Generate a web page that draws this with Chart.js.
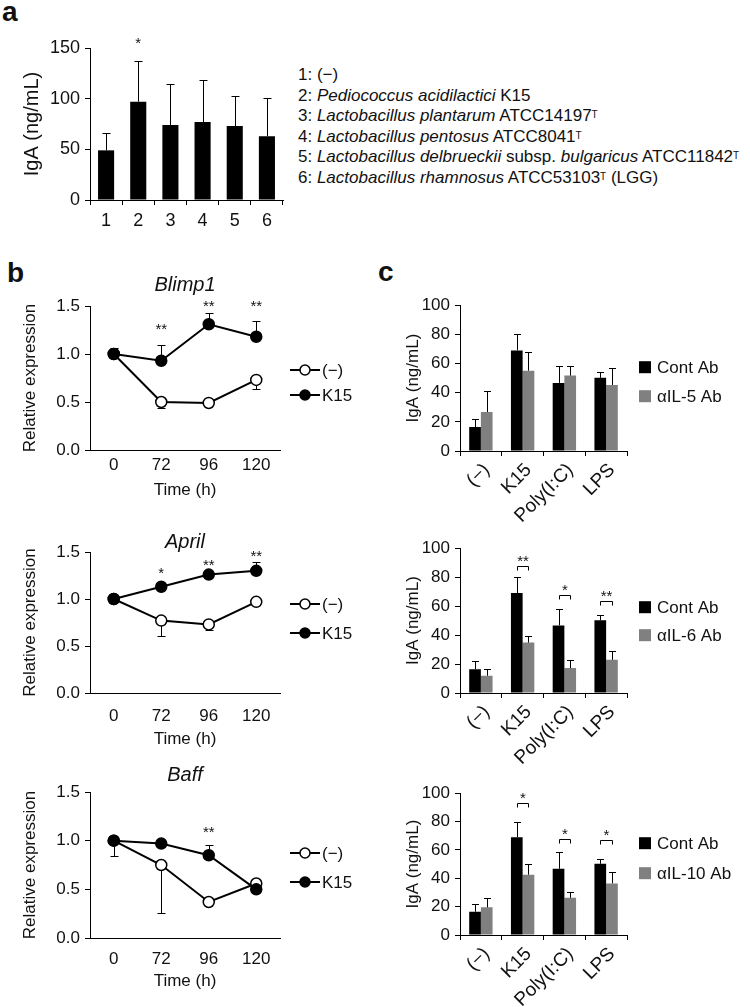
<!DOCTYPE html>
<html>
<head>
<meta charset="utf-8">
<script src="https://cdn.jsdelivr.net/npm/chart.js@4.4.0/dist/chart.umd.min.js"></script>
<style>
body { margin: 0; background: #fff; width: 750px; height: 1007px; position: relative; overflow: hidden; font-family: "Liberation Sans", Arial, sans-serif; color: #111; }
canvas { position: absolute; }
.lbl { position: absolute; font-weight: bold; font-size: 28px; line-height: 28px; }
#strains { position: absolute; left: 298px; top: 65px; font-size: 17px; line-height: 20.5px; white-space: nowrap; }
#strains sup { font-size: 10px; vertical-align: top; position: relative; top: -1px; }
</style>
</head>
<body>
<div class="lbl" style="left:2px;top:-2px">a</div>
<div class="lbl" style="left:7px;top:259px">b</div>
<div class="lbl" style="left:378px;top:258px">c</div>
<div id="strains">
1: (−)<br>
2: <i>Pediococcus acidilactici</i> K15<br>
3: <i>Lactobacillus plantarum</i> ATCC14197<sup>T</sup><br>
4: <i>Lactobacillus pentosus</i> ATCC8041<sup>T</sup><br>
5: <i>Lactobacillus delbrueckii</i> subsp. <i>bulgaricus</i> ATCC11842<sup>T</sup><br>
6: <i>Lactobacillus rhamnosus</i> ATCC53103<sup>T</sup> (LGG)
</div>

<canvas id="chartA" width="290" height="235" style="left:0;top:0"></canvas>
<canvas id="chartBlimp" width="380" height="225" style="left:0;top:275px"></canvas>
<canvas id="chartApril" width="380" height="217" style="left:0;top:532px"></canvas>
<canvas id="chartBaff" width="380" height="226" style="left:0;top:765px"></canvas>
<canvas id="chartIL5" width="370" height="233" style="left:380px;top:290px"></canvas>
<canvas id="chartIL6" width="370" height="232" style="left:380px;top:533px"></canvas>
<canvas id="chartIL10" width="370" height="229" style="left:380px;top:778px"></canvas>

<script>
// ---- panel a: IgA per strain ----
const aLabels = ['1', '2', '3', '4', '5', '6'];
const aIgA = [49, 97, 74, 77, 73, 63];
const aErr = [17, 40, 40, 41, 30, 38];
const aSig = ['', '*', '', '', '', ''];
const aSigAt = [null, 158, null, null, null, null];

// ---- panel b: relative expression over time ----
const timeLabels = ['0', '72', '96', '120'];

const blimpNeg = [1.0, 0.50, 0.49, 0.73];
const blimpNegErr = [0.03, 0.06, 0.02, 0.09];
const blimpK15 = [1.0, 0.93, 1.31, 1.18];
const blimpK15Err = [0.06, 0.16, 0.12, 0.16];
const blimpSig = ['', '**', '**', '**'];
const blimpSigAt = [null, 1.30, 1.54, 1.54];

const aprilNeg = [1.0, 0.77, 0.73, 0.97];
const aprilNegErr = [0.02, 0.16, 0.06, 0.02];
const aprilK15 = [1.0, 1.13, 1.26, 1.30];
const aprilK15Err = [0.02, 0.02, 0.03, 0.09];
const aprilSig = ['', '*', '**', '**'];
const aprilSigAt = [null, 1.31, 1.40, 1.49];

const baffNeg = [1.0, 0.75, 0.37, 0.56];
const baffNegErr = [0.16, 0.49, 0.02, 0.02];
const baffK15 = [1.0, 0.97, 0.85, 0.50];
const baffK15Err = [0.02, 0.03, 0.11, 0.02];
const baffSig = ['', '', '**', ''];
const baffSigAt = [null, null, 1.12, null];

// ---- panel c: IgA with blocking antibodies ----
const cLabels = ['(−)', 'K15', 'Poly(I:C)', 'LPS'];
const contAb = [16.4, 69.0, 46.7, 50.2];
const contErr = [5.5, 11.0, 11.5, 3.7];

const il5Ab = [26.7, 55.1, 51.7, 45.3];
const il5Err = [14.3, 13.0, 6.8, 11.4];

const il6Ab = [11.9, 34.8, 17.2, 22.9];
const il6Err = [5.0, 4.3, 5.5, 6.4];
const il6Sig = ['', '**', '*', '**'];
const il6SigAt = [null, 88, 67.5, 63.4];

const il10Ab = [19.5, 42.5, 26.2, 36.4];
const il10Err = [6.7, 7.4, 4.2, 7.7];
const il10Sig = ['', '*', '*', '*'];
const il10SigAt = [null, 93.3, 67.5, 66.8];

const FONT = '"Liberation Sans", Arial, sans-serif';
Chart.defaults.font.family = FONT;
Chart.defaults.color = '#111';
Chart.defaults.animation = false;
Chart.defaults.plugins.legend.display = false;
Chart.defaults.plugins.tooltip.enabled = false;

// error bars, stars/brackets and the side legend
function drawErr(chart, o) {
    const ctx = chart.ctx, ys = chart.scales.y;
    ctx.save();
    ctx.strokeStyle = '#000';
    ctx.lineWidth = 1;
    chart.data.datasets.forEach((ds, i) => {
        if (!ds.errors) return;
        chart.getDatasetMeta(i).data.forEach((el, j) => {
            const e = ds.errors[j];
            if (!e) return;
            const x = Math.round(el.x) + 0.5;
            const y0 = ys.getPixelForValue(ds.data[j]);
            const y1 = Math.round(ys.getPixelForValue(ds.data[j] + ds.errDir * e)) + 0.5;
            ctx.beginPath();
            ctx.moveTo(x, y0);
            ctx.lineTo(x, y1);
            ctx.moveTo(x - o.cap, y1);
            ctx.lineTo(x + o.cap, y1);
            ctx.stroke();
        });
    });
    ctx.restore();
}

function drawSig(chart, o) {
    if (!o.sig) return;
    const ctx = chart.ctx, xs = chart.scales.x, ys = chart.scales.y;
    ctx.save();
    ctx.fillStyle = '#111';
    ctx.strokeStyle = '#000';
    ctx.lineWidth = 1;
    ctx.font = '15px ' + FONT;
    ctx.textAlign = 'center';
    ctx.textBaseline = 'alphabetic';
    for (let j = 0; j < o.sig.length; j++) {
        const s = o.sig[j];
        if (!s) continue;
        const y = ys.getPixelForValue(o.sigAt[j]);
        if (o.bracket) {
            const a = Math.round(chart.getDatasetMeta(0).data[j].x) + 0.5;
            const b = Math.round(chart.getDatasetMeta(1).data[j].x) + 0.5;
            const yy = Math.round(y) + 0.5;
            ctx.beginPath();
            ctx.moveTo(a, yy + 4);
            ctx.lineTo(a, yy);
            ctx.lineTo(b, yy);
            ctx.lineTo(b, yy + 4);
            ctx.stroke();
            ctx.fillText(s, (a + b) / 2, yy - 0.5);
        } else {
            ctx.fillText(s, xs.getPixelForValue(j), y + 8.5);
        }
    }
    ctx.restore();
}

function drawLegend(chart, o) {
    if (!o.rows) return;
    const ctx = chart.ctx, ca = chart.chartArea;
    ctx.save();
    ctx.font = '17px ' + FONT;
    ctx.textBaseline = 'middle';
    ctx.textAlign = 'left';
    chart.data.datasets.forEach((ds, i) => {
        const y = ca.top + o.rows[i];
        if (o.kind === 'line') {
            const x0 = ca.right + 10;
            ctx.strokeStyle = '#000';
            ctx.lineWidth = 2;
            ctx.beginPath();
            ctx.moveTo(x0, y);
            ctx.lineTo(x0 + 30, y);
            ctx.stroke();
            ctx.beginPath();
            ctx.arc(x0 + 15, y, 5, 0, Math.PI * 2);
            ctx.fillStyle = ds.pointBackgroundColor;
            ctx.fill();
            ctx.lineWidth = 1.5;
            ctx.stroke();
            ctx.fillStyle = '#111';
            ctx.fillText(ds.label, x0 + 32, y + 1);
        } else {
            const x0 = ca.right + 12;
            ctx.fillStyle = ds.backgroundColor;
            ctx.fillRect(x0, y - 6, 12, 12);
            ctx.fillStyle = '#111';
            ctx.fillText(ds.label, x0 + 18, y + 1);
        }
    });
    ctx.restore();
}

const marks = {
    id: 'marks',
    beforeDatasetsDraw(chart, args, o) { if (o.errUnder) drawErr(chart, o); },
    afterDatasetsDraw(chart, args, o) {
        if (!o.errUnder) drawErr(chart, o);
        drawSig(chart, o);
        drawLegend(chart, o);
    }
};

function yAxis(max, step, width, title, titleSize, titlePad, tickSize, fmt) {
    return {
        min: 0, max: max,
        ticks: { stepSize: step, color: '#111', font: { size: tickSize }, padding: 5, callback: fmt },
        grid: { display: true, drawOnChartArea: false, drawTicks: true, tickLength: 5, color: '#000' },
        border: { display: true, color: '#000', width: 1 },
        title: { display: true, text: title, color: '#111', font: { size: titleSize, lineHeight: 1 }, padding: { top: titlePad, bottom: 0 } },
        afterFit(s) { s.width = width; }
    };
}

// panel a
new Chart(document.getElementById('chartA'), {
    type: 'bar',
    data: {
        labels: aLabels,
        datasets: [{ data: aIgA, errors: aErr, errDir: 1, backgroundColor: '#000', barPercentage: 0.5, categoryPercentage: 1 }]
    },
    options: {
        responsive: false,
        layout: { padding: { top: 48, right: 7, left: 0, bottom: 0 } },
        plugins: { marks: { cap: 4, sig: aSig, sigAt: aSigAt } },
        scales: {
            x: {
                grid: { display: true, drawOnChartArea: false, drawTicks: true, tickLength: 5, color: '#000', offset: true },
                border: { display: true, color: '#000' },
                ticks: { color: '#111', font: { size: 18, lineHeight: 1 }, padding: 7 },
                afterFit(s) { s.height = 35; }
            },
            y: yAxis(150, 50, 90, 'IgA (ng/mL)', 20, 22, 18)
        }
    },
    plugins: [marks]
});

// panel b
function lineChart(id, gene, neg, negErr, k15, k15Err, sig, sigAt, box) {
    const top = box.titleY - 10;
    return new Chart(document.getElementById(id), {
        type: 'line',
        data: {
            labels: timeLabels,
            datasets: [
                { label: '(−)', data: neg, errors: negErr, errDir: -1, borderColor: '#000', borderWidth: 2,
                  pointRadius: 5.5, pointBorderWidth: 1.5, pointBorderColor: '#000', pointBackgroundColor: '#fff', order: 1 },
                { label: 'K15', data: k15, errors: k15Err, errDir: 1, borderColor: '#000', borderWidth: 2,
                  pointRadius: 5.5, pointBorderWidth: 1.5, pointBorderColor: '#000', pointBackgroundColor: '#000', order: 0 }
            ]
        },
        options: {
            responsive: false,
            layout: { padding: { top: 0, right: 100, left: 0, bottom: 0 } },
            plugins: {
                title: { display: true, fullSize: false, text: gene, color: '#111',
                         font: { size: 20, style: 'italic', weight: 'normal', lineHeight: 1 },
                         padding: { top: 0, bottom: Math.max(0, box.plotTop - top - 20) } },
                marks: { cap: 4, errUnder: true, sig: sig, sigAt: sigAt, kind: 'line', rows: box.rows }
            },
            scales: {
                x: {
                    offset: true,
                    grid: { display: false, drawTicks: false },
                    border: { display: true, color: '#000' },
                    ticks: { color: '#111', font: { size: 17, lineHeight: 1 }, padding: box.labelsY - box.plotBottom - 8.5 },
                    title: { display: true, text: 'Time (h)', color: '#111', font: { size: 17, lineHeight: 1 }, padding: { top: 0, bottom: 1.5 } },
                    afterFit(s) { s.height = box.timeY + 10 - box.plotBottom; }
                },
                y: yAxis(1.5, 0.5, 90, 'Relative expression', 17, 21.5, 17, v => v.toFixed(1))
            }
        },
        plugins: [marks]
    });
}

lineChart('chartBlimp', 'Blimp1', blimpNeg, blimpNegErr, blimpK15, blimpK15Err, blimpSig, blimpSigAt,
    { titleY: 285, plotTop: 306, plotBottom: 450, labelsY: 465, timeY: 490, rows: [64, 89] });
lineChart('chartApril', 'April', aprilNeg, aprilNegErr, aprilK15, aprilK15Err, aprilSig, aprilSigAt,
    { titleY: 542, plotTop: 550, plotBottom: 693, labelsY: 716, timeY: 739, rows: [52, 81] });
lineChart('chartBaff', 'Baff', baffNeg, baffNegErr, baffK15, baffK15Err, baffSig, baffSigAt,
    { titleY: 775, plotTop: 792, plotBottom: 938, labelsY: 959, timeY: 981, rows: [61, 90] });

// panel c
function abChart(id, abLabel, ab, abErr, sig, sigAt, rows) {
    return new Chart(document.getElementById(id), {
        type: 'bar',
        data: {
            labels: cLabels,
            datasets: [
                { label: 'Cont Ab', data: contAb, errors: contErr, errDir: 1, backgroundColor: '#000', barPercentage: 1, categoryPercentage: 0.56 },
                { label: abLabel, data: ab, errors: abErr, errDir: 1, backgroundColor: '#808080', barPercentage: 1, categoryPercentage: 0.56 }
            ]
        },
        options: {
            responsive: false,
            layout: { padding: { top: 14, right: 123, left: 0, bottom: 0 } },
            plugins: { marks: { cap: 3.5, sig: sig, sigAt: sigAt, bracket: true, kind: 'box', rows: rows } },
            scales: {
                x: {
                    grid: { display: true, drawOnChartArea: false, drawTicks: true, tickLength: 5, color: '#000', offset: true },
                    border: { display: true, color: '#000' },
                    ticks: { color: '#111', font: { size: 19 }, padding: 3, labelOffset: 6, minRotation: 45, maxRotation: 45, autoSkip: false },
                    afterFit(s) { s.height = 72; }
                },
                y: yAxis(100, 20, 80, 'IgA (ng/mL)', 17, 24.5, 17)
            }
        },
        plugins: [marks]
    });
}

abChart('chartIL5', 'αIL-5 Ab', il5Ab, il5Err, null, null, [62, 91]);
abChart('chartIL6', 'αIL-6 Ab', il6Ab, il6Err, il6Sig, il6SigAt, [59, 87]);
abChart('chartIL10', 'αIL-10 Ab', il10Ab, il10Err, il10Sig, il10SigAt, [50, 80]);
</script>
</body>
</html>
